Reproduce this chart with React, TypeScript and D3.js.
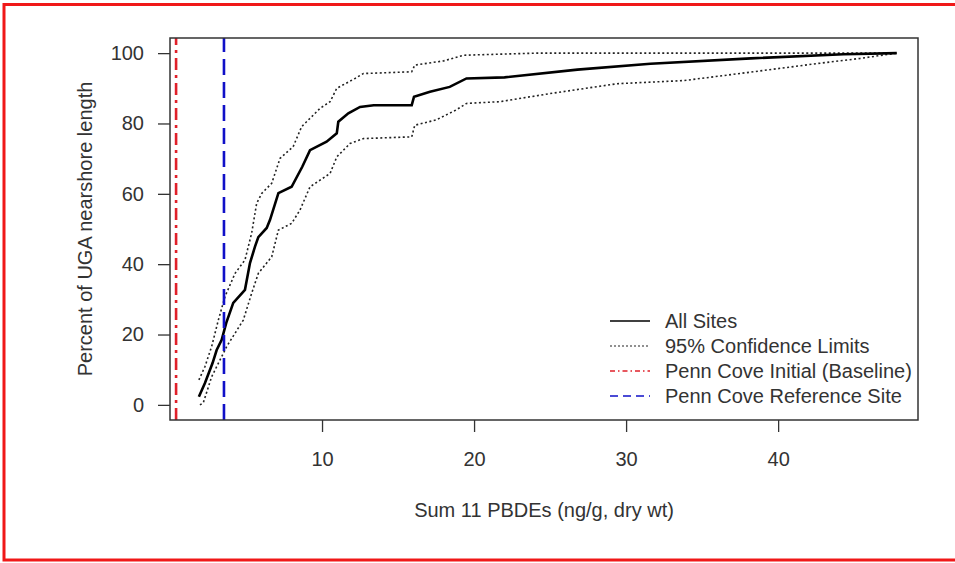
import React, { useEffect, useRef } from 'react';
import * as d3 from 'd3';

// ECDF of sum PBDEs: [ng/g dry wt, percent of nearshore length]
const allSites: [number, number][] = [
  [1.9, 2.3], [2.3, 6.2], [2.8, 11.9], [3.07, 15.6], [3.4, 18.5], [3.7, 23.3],
  [4.16, 29], [4.93, 32.7], [5.26, 40.3], [5.59, 45], [5.81, 47.7], [6.36, 50.3],
  [6.58, 52.6], [7.13, 60.2], [8.0, 62], [8.7, 67.7], [9.21, 72.4], [10.3, 74.8],
  [10.97, 77.2], [11.07, 80.5], [11.73, 82.9], [12.5, 84.7], [13.4, 85.2],
  [15.9, 85.2], [16.05, 87.6], [17.1, 89], [18.4, 90.4], [19.5, 92.8], [22.0, 93.1],
  [26.8, 95.3], [31.6, 97], [38.2, 98.5], [44.3, 99.7], [47.8, 100],
];

const upperLimit: [number, number][] = [
  [1.9, 7.1], [2.3, 10.9], [2.74, 16.6], [3.18, 24.1], [3.62, 30.8], [4.28, 37.4],
  [4.93, 41.2], [5.37, 48.8], [5.7, 57.3], [6.03, 60.1], [6.69, 63], [7.24, 70.1],
  [8.1, 73.4], [8.66, 79.1], [9.87, 84.3], [10.53, 86.2], [10.97, 90], [12.17, 92.8],
  [12.72, 94.2], [15.9, 94.7], [16.1, 96.6], [18.0, 97.8], [19.3, 99.4], [24.1, 100],
  [47.8, 100],
];

const lowerLimit: [number, number][] = [
  [1.97, 0], [2.19, 0.6], [2.74, 8], [3.4, 13.7], [3.73, 16.6], [4.82, 24.1],
  [5.37, 31.7], [5.81, 37.4], [6.69, 42.1], [7.13, 49.7], [8.0, 51.6], [8.55, 55.4],
  [9.21, 62], [10.53, 65.8], [10.97, 70.5], [11.84, 74.3], [12.72, 75.7], [15.9, 76.2],
  [16.1, 79.5], [17.5, 81], [18.8, 83.8], [19.5, 85.7], [21.7, 86.2], [25.0, 88.5],
  [29.4, 91.3], [33.8, 92.2], [38.2, 94.6], [42.5, 97], [45.4, 98.5], [47.8, 100],
];

const pennCoveInitial = 0.4;
const pennCoveReference = 3.55;

const xTicks = [10, 20, 30, 40];
const yTicks = [0, 20, 40, 60, 80, 100];

const legendLabels = [
  'All Sites',
  '95% Confidence Limits',
  'Penn Cove Initial (Baseline)',
  'Penn Cove Reference Site',
];

const FONT = 'Liberation Sans, Arial, sans-serif';

const App = () => {
  const ref = useRef<SVGSVGElement | null>(null);

  useEffect(() => {
    const svg = d3.select(ref.current);
    svg.selectAll('*').remove();

    const x = d3.scaleLinear().domain([0, 49.2]).range([170, 918]);
    const y = d3.scaleLinear().domain([-4.3, 104.3]).range([420, 38]);

    // red frame around the figure
    svg
      .append('rect')
      .attr('x', 4)
      .attr('y', 4.5)
      .attr('width', 1000)
      .attr('height', 555.5)
      .attr('fill', 'none')
      .attr('stroke', '#f01818')
      .attr('stroke-width', 3);

    const line = d3
      .line<[number, number]>()
      .x((d) => x(d[0]))
      .y((d) => y(d[1]));

    const plot = svg.append('g');

    plot
      .append('path')
      .attr('d', line(upperLimit))
      .attr('fill', 'none')
      .attr('stroke', '#222')
      .attr('stroke-width', 1.6)
      .attr('stroke-dasharray', '2,2.5');

    plot
      .append('path')
      .attr('d', line(lowerLimit))
      .attr('fill', 'none')
      .attr('stroke', '#222')
      .attr('stroke-width', 1.6)
      .attr('stroke-dasharray', '2,2.5');

    plot
      .append('path')
      .attr('d', line(allSites))
      .attr('fill', 'none')
      .attr('stroke', '#000')
      .attr('stroke-width', 2.6);

    plot
      .append('line')
      .attr('x1', x(pennCoveInitial))
      .attr('x2', x(pennCoveInitial))
      .attr('y1', y.range()[0])
      .attr('y2', y.range()[1])
      .attr('stroke', '#e0202a')
      .attr('stroke-width', 2.6)
      .attr('stroke-dasharray', '12,5,3,5');

    plot
      .append('line')
      .attr('x1', x(pennCoveReference))
      .attr('x2', x(pennCoveReference))
      .attr('y1', y.range()[0])
      .attr('y2', y.range()[1])
      .attr('stroke', '#1010c8')
      .attr('stroke-width', 2.6)
      .attr('stroke-dasharray', '16,7');

    // box
    svg
      .append('rect')
      .attr('x', x.range()[0])
      .attr('y', y.range()[1])
      .attr('width', x.range()[1] - x.range()[0])
      .attr('height', y.range()[0] - y.range()[1])
      .attr('fill', 'none')
      .attr('stroke', '#333')
      .attr('stroke-width', 1.5);

    // x axis
    const xAxis = svg
      .append('g')
      .attr('transform', `translate(0,${y.range()[0]})`)
      .call(d3.axisBottom(x).tickValues(xTicks).tickSize(12).tickPadding(20).tickSizeOuter(0));
    xAxis.select('.domain').remove();
    xAxis.selectAll('line').attr('stroke', '#333').attr('stroke-width', 1.3);
    xAxis
      .selectAll('text')
      .attr('font-family', FONT)
      .attr('font-size', 20)
      .attr('fill', '#333');

    // y axis
    const yAxis = svg
      .append('g')
      .attr('transform', `translate(${x.range()[0]},0)`)
      .call(d3.axisLeft(y).tickValues(yTicks).tickSize(12).tickPadding(14).tickSizeOuter(0));
    yAxis.select('.domain').remove();
    yAxis.selectAll('line').attr('stroke', '#333').attr('stroke-width', 1.3);
    yAxis
      .selectAll('text')
      .attr('font-family', FONT)
      .attr('font-size', 20)
      .attr('fill', '#333');

    svg
      .append('text')
      .attr('x', (x.range()[0] + x.range()[1]) / 2)
      .attr('y', 517)
      .attr('text-anchor', 'middle')
      .attr('font-family', FONT)
      .attr('font-size', 20)
      .attr('fill', '#333')
      .text('Sum 11 PBDEs (ng/g, dry wt)');

    svg
      .append('text')
      .attr('transform', `translate(92,${(y.range()[0] + y.range()[1]) / 2}) rotate(-90)`)
      .attr('text-anchor', 'middle')
      .attr('font-family', FONT)
      .attr('font-size', 20)
      .attr('fill', '#333')
      .text('Percent of UGA nearshore length');

    // legend
    const legendStyles = [
      { stroke: '#000', width: 1.6, dash: null },
      { stroke: '#222', width: 1.2, dash: '2,2' },
      { stroke: '#e0202a', width: 1.3, dash: '5,3,1.5,3' },
      { stroke: '#1010c8', width: 1.7, dash: '8,5' },
    ];
    const legend = svg.append('g');
    legendLabels.forEach((label, i) => {
      const ly = 321 + i * 25;
      const s = legendStyles[i];
      legend
        .append('line')
        .attr('x1', 610)
        .attr('x2', 650)
        .attr('y1', ly)
        .attr('y2', ly)
        .attr('stroke', s.stroke)
        .attr('stroke-width', s.width)
        .attr('stroke-dasharray', s.dash);
      legend
        .append('text')
        .attr('x', 665)
        .attr('y', ly)
        .attr('dy', '0.35em')
        .attr('font-family', FONT)
        .attr('font-size', 20)
        .attr('fill', '#333')
        .text(label);
    });
  }, []);

  return (
    <svg
      ref={ref}
      width={955}
      height={563}
      style={{ position: 'absolute', left: 0, top: 0, background: '#fff' }}
    />
  );
};

export default App;
